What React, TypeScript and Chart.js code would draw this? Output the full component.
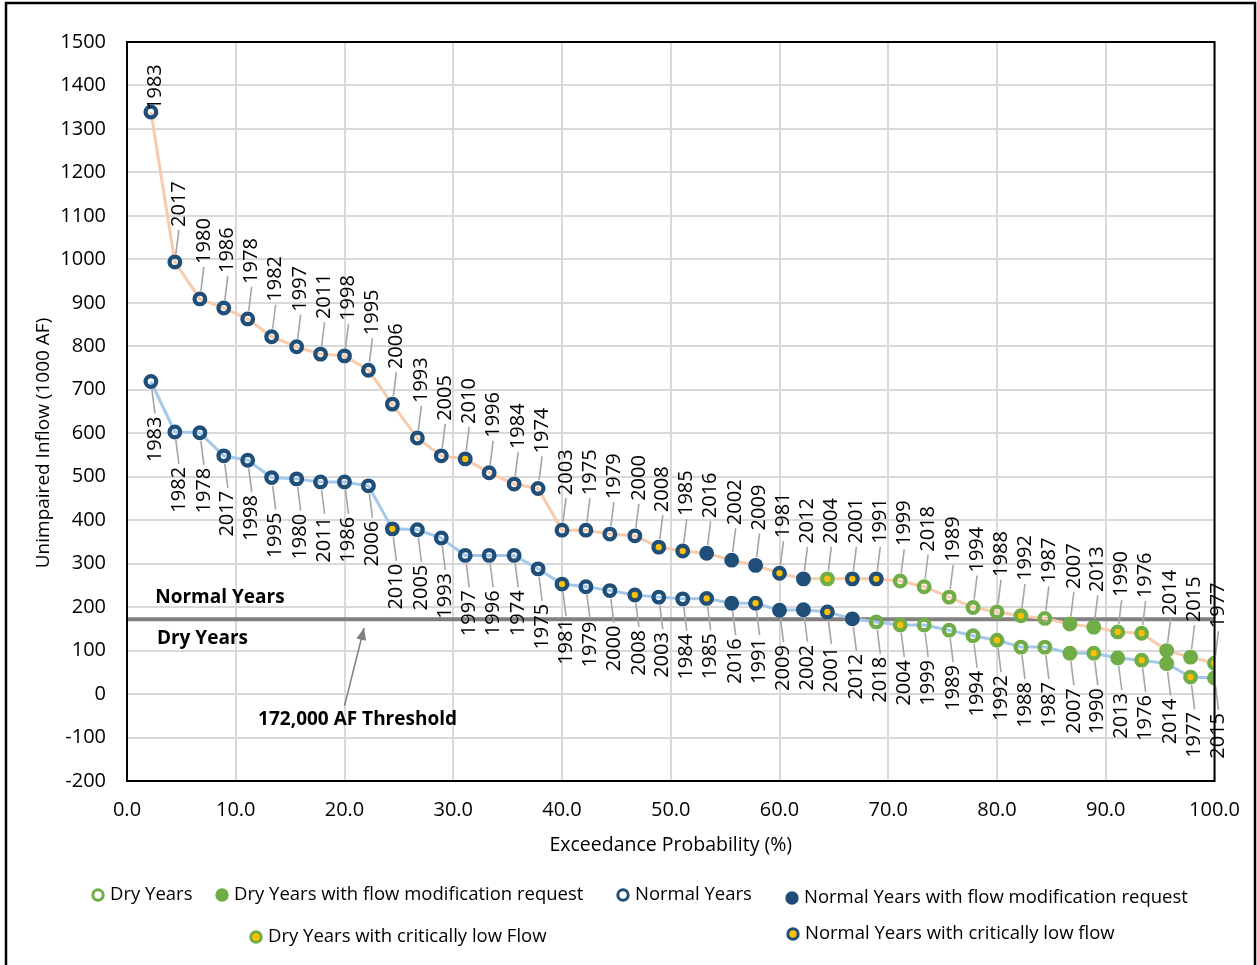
import React, { useEffect, useRef } from 'react';
import { Chart, registerables } from 'chart.js';

Chart.register(...registerables);

// ---------- data ----------
const exceedance = [
  2.2, 4.4, 6.7, 8.9, 11.1, 13.3, 15.6, 17.8, 20.0, 22.2, 24.4, 26.7, 28.9, 31.1, 33.3,
  35.6, 37.8, 40.0, 42.2, 44.4, 46.7, 48.9, 51.1, 53.3, 55.6, 57.8, 60.0, 62.2, 64.4, 66.7,
  68.9, 71.1, 73.3, 75.6, 77.8, 80.0, 82.2, 84.4, 86.7, 88.9, 91.1, 93.3, 95.6, 97.8, 100.0,
];

const upperYears = [
  '1983', '2017', '1980', '1986', '1978', '1982', '1997', '2011', '1998', '1995', '2006', '1993', '2005', '2010', '1996',
  '1984', '1974', '2003', '1975', '1979', '2000', '2008', '1985', '2016', '2002', '2009', '1981', '2012', '2004', '2001',
  '1991', '1999', '2018', '1989', '1994', '1988', '1992', '1987', '2007', '2013', '1990', '1976', '2014', '2015', '1977',
];
const upperValues = [
  1339, 994, 909, 888, 863, 822, 799, 782, 778, 745, 667, 589, 548, 541, 509,
  483, 473, 377, 377, 368, 364, 338, 329, 324, 308, 296, 278, 265, 265, 265,
  265, 260, 247, 223, 199, 189, 180, 174, 161, 154, 143, 140, 100, 85, 71,
];
// N = normal, D = dry; suffix M = flow modification request, C = critically low flow
const upperClasses = [
  'N', 'N', 'N', 'N', 'N', 'N', 'N', 'N', 'N', 'N', 'N', 'N', 'N', 'NC', 'N',
  'N', 'N', 'N', 'N', 'N', 'N', 'NC', 'NC', 'NM', 'NM', 'NM', 'NC', 'NM', 'DC', 'NC',
  'NC', 'D', 'D', 'D', 'D', 'D', 'DC', 'D', 'DM', 'DM', 'DC', 'DC', 'DM', 'DM', 'DC',
];

const lowerYears = [
  '1983', '1982', '1978', '2017', '1998', '1995', '1980', '2011', '1986', '2006', '2010', '2005', '1993', '1997', '1996',
  '1974', '1975', '1981', '1979', '2000', '2008', '2003', '1984', '1985', '2016', '1991', '2009', '2002', '2001', '2012',
  '2018', '2004', '1999', '1989', '1994', '1992', '1988', '1987', '2007', '1990', '2013', '1976', '2014', '1977', '2015',
];
const lowerValues = [
  719, 603, 601, 548, 538, 498, 495, 488, 488, 479, 380, 378, 359, 319, 319,
  319, 288, 253, 247, 238, 228, 223, 219, 220, 209, 209, 193, 194, 189, 173,
  166, 159, 159, 147, 134, 124, 108, 108, 94, 94, 83, 78, 70, 39, 37,
];
const lowerClasses = [
  'N', 'N', 'N', 'N', 'N', 'N', 'N', 'N', 'N', 'N', 'NC', 'N', 'N', 'N', 'N',
  'N', 'N', 'NC', 'N', 'N', 'NC', 'N', 'N', 'NC', 'NM', 'NC', 'NM', 'NM', 'NC', 'NM',
  'D', 'DC', 'D', 'D', 'D', 'DC', 'D', 'D', 'DM', 'DC', 'DM', 'DC', 'DM', 'DC', 'DM',
];

const thresholdValue = 172;
const thresholdX = [0, 100];

const legendItems = [
  { cls: 'D', text: 'Dry Years' },
  { cls: 'DM', text: 'Dry Years with flow modification request' },
  { cls: 'N', text: 'Normal Years' },
  { cls: 'NM', text: 'Normal Years with flow modification request' },
  { cls: 'DC', text: 'Dry Years with critically low Flow' },
  { cls: 'NC', text: 'Normal Years with critically low flow' },
];

const yTitle = 'Unimpaired Inflow (1000 AF)';
const xTitle = 'Exceedance Probability (%)';

// ---------- styles ----------
const NAVY = '#1F4E79';
const GREEN = '#70AD47';
const YELLOW = '#FFC000';
const FONT = '"Open Sans", "DejaVu Sans", sans-serif';

function markerColors(cls: string) {
  const ring = cls[0] === 'D' ? GREEN : NAVY;
  if (cls[1] === 'M') return { bg: ring, border: ring };
  if (cls[1] === 'C') return { bg: YELLOW, border: ring };
  return { bg: 'rgba(255,255,255,0)', border: ring };
}

const labelPlugin = {
  id: 'yearLabels',
  afterDatasetsDraw(chart: any) {
    const ctx = chart.ctx;
    const defs = [
      { ds: 1, years: upperYears, dir: -1 },
      { ds: 2, years: lowerYears, dir: 1 },
    ];
    ctx.save();
    ctx.font = `20px ${FONT}`;
    ctx.fillStyle = '#000';
    ctx.strokeStyle = '#A6A6A6';
    ctx.lineWidth = 1.6;
    for (const d of defs) {
      const meta = chart.getDatasetMeta(d.ds);
      meta.data.forEach((pt: any, i: number) => {
        const x = pt.x;
        const y = pt.y;
        let off = 35;
        if (d.dir < 0 && i === 0) off = 2;
        const lx = x + 4;
        const ly = y + d.dir * off;
        if (off > 20) {
          ctx.beginPath();
          ctx.moveTo(x + 1, y + d.dir * 8);
          ctx.lineTo(lx, ly - d.dir * 3);
          ctx.stroke();
        }
        ctx.save();
        ctx.translate(lx, ly);
        ctx.rotate(-Math.PI / 2);
        ctx.textAlign = d.dir < 0 ? 'left' : 'right';
        ctx.textBaseline = 'middle';
        ctx.fillText(d.years[i], 0, 0);
        ctx.restore();
      });
    }
    ctx.restore();
  },
};

const annotationPlugin = {
  id: 'annotations',
  afterDatasetsDraw(chart: any) {
    const ctx = chart.ctx;
    const xs = chart.scales.x;
    const ys = chart.scales.y;
    const px = (v: number) => xs.getPixelForValue(v);
    const py = (v: number) => ys.getPixelForValue(v);
    ctx.save();
    ctx.fillStyle = '#000';
    ctx.font = `bold 19px ${FONT}`;
    ctx.textBaseline = 'middle';
    ctx.textAlign = 'left';
    ctx.fillText('Normal Years', px(2.6), py(221));
    ctx.fillText('Dry Years', px(2.75), py(127));
    ctx.textAlign = 'center';
    ctx.fillText('172,000 AF Threshold', px(21.2), py(-58));
    // arrow
    const x0 = px(20.0), y0 = py(-27), x1 = px(21.8), y1 = py(152);
    ctx.strokeStyle = '#7F7F7F';
    ctx.fillStyle = '#7F7F7F';
    ctx.lineWidth = 1.5;
    ctx.beginPath();
    ctx.moveTo(x0, y0);
    ctx.lineTo(x1, y1);
    ctx.stroke();
    const ang = Math.atan2(y1 - y0, x1 - x0);
    const hl = 12, hw = 5;
    ctx.beginPath();
    ctx.moveTo(x1, y1);
    ctx.lineTo(x1 - hl * Math.cos(ang) + hw * Math.sin(ang), y1 - hl * Math.sin(ang) - hw * Math.cos(ang));
    ctx.lineTo(x1 - hl * Math.cos(ang) - hw * Math.sin(ang), y1 - hl * Math.sin(ang) + hw * Math.cos(ang));
    ctx.closePath();
    ctx.fill();
    ctx.restore();
  },
};

const framePlugin = {
  id: 'frame',
  beforeDraw(chart: any) {
    const ctx = chart.ctx;
    ctx.save();
    ctx.fillStyle = '#fff';
    ctx.fillRect(0, 0, chart.width, chart.height);
    ctx.restore();
  },
  afterDraw(chart: any) {
    const ctx = chart.ctx;
    const a = chart.chartArea;
    ctx.save();
    ctx.strokeStyle = '#000';
    ctx.lineWidth = 2;
    ctx.strokeRect(a.left, a.top, a.right - a.left, a.bottom - a.top);
    ctx.lineWidth = 2.5;
    ctx.strokeRect(6, 3, chart.width - 8, chart.height + 10);
    // axis titles
    ctx.fillStyle = '#000';
    ctx.textAlign = 'center';
    ctx.textBaseline = 'middle';
    ctx.font = `19.5px ${FONT}`;
    ctx.fillText(xTitle, (a.left + a.right) / 2, 845);
    ctx.save();
    ctx.translate(44, 443);
    ctx.rotate(-Math.PI / 2);
    ctx.font = `19px ${FONT}`;
    ctx.fillText(yTitle, 0, 0);
    ctx.restore();
    // legend
    const pos = [
      [98, 895], [222, 895], [623, 895], [792, 898], [256, 937], [793, 934],
    ];
    ctx.font = `18.5px ${FONT}`;
    ctx.textBaseline = 'middle';
    ctx.textAlign = 'left';
    legendItems.forEach((it, i) => {
      const [x, y] = pos[i];
      const c = markerColors(it.cls);
      ctx.beginPath();
      ctx.arc(x, y, 5.2, 0, Math.PI * 2);
      ctx.fillStyle = c.bg;
      ctx.fill();
      ctx.lineWidth = 3;
      ctx.strokeStyle = c.border;
      ctx.stroke();
      ctx.fillStyle = '#000';
      ctx.fillText(it.text, x + 12, y);
    });
    ctx.restore();
  },
};

function makeSeries(values: number[], classes: string[], color: string) {
  const cols = classes.map(markerColors);
  return {
    data: values.map((v, i) => ({ x: exceedance[i], y: v })),
    borderColor: color,
    borderWidth: 3,
    pointRadius: 5.3,
    pointBorderWidth: 4.3,
    pointBackgroundColor: cols.map((c) => c.bg),
    pointBorderColor: cols.map((c) => c.border),
    showLine: true,
    tension: 0,
    order: 1,
  };
}

export default function App() {
  const ref = useRef<HTMLCanvasElement | null>(null);

  useEffect(() => {
    if (!ref.current) return;
    const chart = new Chart(ref.current, {
      type: 'scatter',
      data: {
        datasets: [
          {
            data: thresholdX.map((x) => ({ x, y: thresholdValue })),
            borderColor: '#808080',
            borderWidth: 4,
            pointRadius: 0,
            showLine: true,
            order: 3,
          } as any,
          makeSeries(upperValues, upperClasses, '#F8CBAD') as any,
          makeSeries(lowerValues, lowerClasses, '#A4C8EA') as any,
        ],
      },
      options: {
        responsive: false,
        animation: false,
        layout: { padding: { left: 0, top: 42, right: 41, bottom: 0 } },
        plugins: {
          legend: { display: false },
          tooltip: { enabled: false },
        },
        scales: {
          x: {
            type: 'linear',
            min: 0,
            max: 100,
            afterFit: (s: any) => { s.height = 184; },
            ticks: {
              stepSize: 10,
              padding: 17,
              color: '#000',
              font: { family: FONT, size: 20 },
              callback: (v: any) => Number(v).toFixed(1),
            },
            grid: { color: '#D9D9D9', lineWidth: 2, drawTicks: false },
            border: { display: false },
            title: { display: false },
          },
          y: {
            type: 'linear',
            min: -200,
            max: 1500,
            afterFit: (s: any) => { s.width = 127; },
            ticks: {
              stepSize: 100,
              padding: 21,
              color: '#000',
              font: { family: FONT, size: 20 },
              callback: (v: any) => String(v),
            },
            grid: { color: '#D9D9D9', lineWidth: 2, drawTicks: false },
            border: { display: false },
            title: { display: false },
          },
        },
      } as any,
      plugins: [framePlugin, annotationPlugin, labelPlugin],
    });
    return () => chart.destroy();
  }, []);

  return (
    <div style={{ position: 'absolute', left: 0, top: 0, width: 1257, height: 965 }}>
      <canvas ref={ref} width={1257} height={965} style={{ display: 'block' }} />
    </div>
  );
}
